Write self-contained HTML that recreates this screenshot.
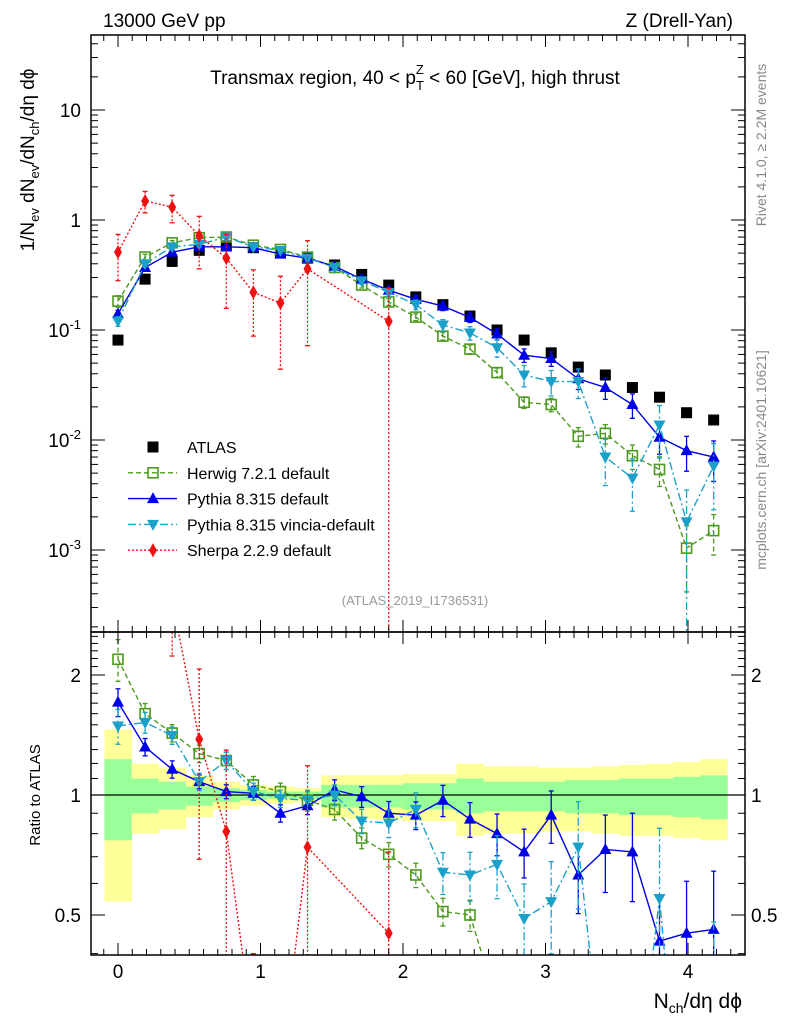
<!DOCTYPE html>
<html><head><meta charset="utf-8"><style>
html,body{margin:0;padding:0;background:#fff;width:786px;height:1024px;overflow:hidden;}
svg{display:block;font-family:"Liberation Sans",sans-serif;}
</style></head><body>
<svg id="c" width="786" height="1024" viewBox="0 0 786 1024" xmlns="http://www.w3.org/2000/svg">
<defs>
<clipPath id="cm"><rect x="91" y="35" width="654" height="597"/></clipPath>
<clipPath id="cr"><rect x="91" y="632" width="654" height="323"/></clipPath>
</defs>
<g id="bands" clip-path="url(#cr)"></g>
<g id="mainmarks" clip-path="url(#cm)"></g>
<g id="ratiomarks" clip-path="url(#cr)"></g>
<g id="axes"></g>
<text x="103" y="27" font-size="19">13000 GeV pp</text>
<text x="733" y="27" font-size="19" text-anchor="end">Z (Drell-Yan)</text>
<text x="415" y="84" font-size="19" text-anchor="middle">Transmax region, 40 &lt; p<tspan font-size="13" dy="6">T</tspan><tspan font-size="13" dx="-8" dy="-16">Z</tspan><tspan dy="10"> &lt; 60 [GeV], high thrust</tspan></text>
<text x="415" y="605" font-size="13" fill="#999" text-anchor="middle">(ATLAS_2019_I1736531)</text>
<text transform="translate(766,145) rotate(-90)" font-size="14" fill="#888" text-anchor="middle">Rivet 4.1.0, ≥ 2.2M events</text>
<text transform="translate(766,460) rotate(-90)" font-size="14" fill="#888" text-anchor="middle">mcplots.cern.ch [arXiv:2401.10621]</text>
<text transform="translate(34,160) rotate(-90)" font-size="19" text-anchor="middle">1/N<tspan font-size="13" dy="5">ev</tspan><tspan dy="-5"> dN</tspan><tspan font-size="13" dy="5">ev</tspan><tspan dy="-5">/dN</tspan><tspan font-size="13" dy="5">ch</tspan><tspan dy="-5">/dη dϕ</tspan></text>
<text transform="translate(40,795) rotate(-90)" font-size="15" text-anchor="middle">Ratio to ATLAS</text>
<text x="742" y="1008" font-size="21" text-anchor="end">N<tspan font-size="14" dy="5">ch</tspan><tspan dy="-5">/dη dϕ</tspan></text>
<g id="legend"></g>
</svg>
<script>
const xs = [0,0.19,0.38,0.57,0.76,0.95,1.14,1.33,1.52,1.71,1.90,2.09,2.28,2.47,2.66,2.85,3.04,3.23,3.42,3.61,3.80,3.99,4.18];
const atlas = [0.081,0.29,0.42,0.53,0.58,0.56,0.51,0.45,0.39,0.32,0.256,0.20,0.17,0.134,0.10,0.081,0.062,0.046,0.039,0.030,0.0245,0.0177,0.0152];
const herwig = [0.183,0.46,0.62,0.69,0.70,0.59,0.54,0.46,0.37,0.256,0.18,0.131,0.088,0.067,0.041,0.022,0.021,0.0108,0.0115,0.0072,0.0054,0.00104,0.0015];
const pythia = [0.14,0.37,0.51,0.57,0.57,0.56,0.49,0.45,0.38,0.29,0.23,0.19,0.165,0.13,0.092,0.059,0.055,0.036,0.030,0.021,0.0106,0.0080,0.0070];
const vincia = [0.12,0.40,0.57,0.60,0.70,0.57,0.53,0.45,0.37,0.28,0.22,0.17,0.111,0.094,0.069,0.039,0.034,0.034,0.0070,0.0045,0.0137,0.0018,0.0058];
const sherpa = [0.51,1.49,1.31,0.72,0.45,0.22,0.176,0.36,null,null,0.12];
const herwigErr = [0.12,0.06,0.05,0.05,0.05,0.05,0.05,0.05,0.06,0.06,0.07,0.07,0.08,0.09,0.1,0.12,0.14,0.2,0.2,0.25,0.3,0.6,0.4];
const pythiaErr = [0.08,0.05,0.05,0.04,0.04,0.04,0.05,0.05,0.06,0.06,0.07,0.08,0.09,0.1,0.12,0.14,0.15,0.2,0.22,0.25,0.3,0.35,0.4];
const vinciaErr = [0.1,0.06,0.05,0.05,0.05,0.05,0.05,0.06,0.06,0.07,0.08,0.1,0.12,0.14,0.18,0.22,0.26,0.3,0.45,0.5,0.5,0.95,0.6];
const sherpaErr = [0.45,0.22,0.28,0.5,0.65,0.6,0.75,0.8,0,0,1.0];
const rHerwig = [2.19,1.60,1.43,1.27,1.22,1.06,1.02,0.97,0.92,0.78,0.71,0.63,0.51,0.50,0.30,0.2,0.25,0.2,0.25,0.2,0.2,0.06,0.1];
const rPythia = [1.71,1.32,1.16,1.08,1.02,1.01,0.90,0.94,1.03,0.99,0.90,0.89,0.97,0.87,0.80,0.72,0.89,0.63,0.73,0.72,0.43,0.45,0.46];
const rVincia = [1.49,1.52,1.41,1.08,1.22,1.02,0.98,0.97,1.0,0.86,0.85,0.92,0.64,0.63,0.67,0.49,0.54,0.74,0.18,0.15,0.55,0.1,0.3];
const rSherpa = [6.3,5.1,3.1,1.38,0.81,0.25,0.2,0.74,null,null,0.45];
const greenHi = [1.23,1.10,1.08,1.05,1.04,1.03,1.02,1.02,1.06,1.06,1.06,1.07,1.07,1.10,1.08,1.08,1.08,1.09,1.09,1.10,1.10,1.11,1.12];
const greenLo = [0.77,0.90,0.92,0.94,0.96,0.97,0.98,0.98,0.93,0.93,0.93,0.92,0.92,0.90,0.91,0.91,0.91,0.90,0.90,0.89,0.89,0.88,0.87];
const yellowHi = [1.46,1.20,1.17,1.12,1.08,1.06,1.05,1.04,1.12,1.12,1.12,1.13,1.13,1.20,1.18,1.18,1.17,1.17,1.18,1.19,1.20,1.21,1.23];
const yellowLo = [0.54,0.80,0.82,0.88,0.92,0.94,0.95,0.96,0.88,0.87,0.87,0.86,0.86,0.79,0.80,0.80,0.81,0.81,0.80,0.79,0.79,0.78,0.77];
const xTicks = [0,1,2,3,4];
const mainTicks = [["10",1],["1",0],["10⁻¹",-1],["10⁻²",-2],["10⁻³",-3]];
const ratioTicks = [["2",2],["1",1],["0.5",0.5]];

const NS="http://www.w3.org/2000/svg";
const X0=91,X1=745,MT=35,MB=632,RT=632,RB=955;
const fx=v=>118+v*142.5;
const fy=v=>220-Math.log10(v)*110;
const fr=v=>795-Math.log10(v)*398.6;
function mk(tag,attrs,parent){const e=document.createElementNS(NS,tag);for(const k in attrs)e.setAttribute(k,attrs[k]);parent.appendChild(e);return e;}
const axes=document.getElementById('axes'),mm=document.getElementById('mainmarks'),rm=document.getElementById('ratiomarks'),bd=document.getElementById('bands'),lg=document.getElementById('legend');

for(let i=0;i<xs.length;i++){
  const a=fx(xs[i]-0.095),b=fx(xs[i]+0.095);
  const y=mk('rect',{x:a,y:fr(yellowHi[i]),width:b-a+0.5,height:fr(yellowLo[i])-fr(yellowHi[i]),fill:'#ffff99'},bd);
  
  
  const g=mk('rect',{x:a,y:fr(greenHi[i]),width:b-a+0.5,height:fr(greenLo[i])-fr(greenHi[i]),fill:'#99ff99'},bd);
  
  
}
const one=mk('line',{x1:X0,x2:X1,y1:fr(1),y2:fr(1),stroke:'#000','stroke-width':1.3},bd);



function marker(type,cx,cy,col,parent){
  let e;
  if(type==='sq') e=mk('rect',{x:cx-5.5,y:cy-5.5,width:11,height:11,fill:'#000'},parent);
  else if(type==='osq') e=mk('rect',{x:cx-5,y:cy-5,width:10,height:10,fill:'#fff','fill-opacity':0,stroke:col,'stroke-width':1.6},parent);
  else if(type==='up') e=mk('polygon',{points:`${cx},${cy-6.5} ${cx-6},${cy+4.5} ${cx+6},${cy+4.5}`,fill:col},parent);
  else if(type==='dn') e=mk('polygon',{points:`${cx},${cy+6.5} ${cx-6},${cy-4.5} ${cx+6},${cy-4.5}`,fill:col},parent);
  else e=mk('polygon',{points:`${cx},${cy-7} ${cx-4},${cy} ${cx},${cy+7} ${cx+4},${cy}`,fill:col},parent);
  return e;
}
function series(name,vals,errs,col,dash,type,parent,fyf,isRatio){
  const g=mk('g',{},parent);
  
  
  let pts=[];
  vals.forEach((v,i)=>{if(v!=null)pts.push([fx(xs[i]),fyf(Math.max(v,1e-6))]);});
  if(dash!==null){
    const l=mk('polyline',{points:pts.map(p=>p.join(',')).join(' '),fill:'none',stroke:col,'stroke-width':1.4,'stroke-dasharray':dash},g);
    
    
  }
  vals.forEach((v,i)=>{
    if(v==null)return;
    const cx=fx(xs[i]),cy=fyf(v);
    if(errs){const e=isRatio?Math.min(errs[i],0.6):errs[i];
      const lo=Math.max(v*(1-Math.min(e,0.9999)),1e-6),hi=v*(1+e);
      const b=mk('line',{x1:cx,x2:cx,y1:fyf(hi),y2:fyf(lo),stroke:col,'stroke-width':1.3,'stroke-dasharray':dash||'none'},g);
      
      
      mk('line',{x1:cx-2.5,x2:cx+2.5,y1:fyf(hi),y2:fyf(hi),stroke:col,'stroke-width':1.3},g);
      mk('line',{x1:cx-2.5,x2:cx+2.5,y1:fyf(lo),y2:fyf(lo),stroke:col,'stroke-width':1.3},g);
    }
    const m=marker(type,cx,cy,col,g);
    
    
  });
}
const HC='#4c9a1e',PC='#0000e6',VC='#1ba1c9',SC='#ee1111';
series('atlas',atlas,null,'#000',null,'sq',mm,fy,false);
series('herwig',herwig,herwigErr,HC,'5,3','osq',mm,fy,false);
series('pythia',pythia,pythiaErr,PC,'none','up',mm,fy,false);
series('vincia',vincia,vinciaErr,VC,'8,3,2,3','dn',mm,fy,false);
series('sherpa',sherpa,sherpaErr,SC,'2,2','dia',mm,fy,false);
series('herwig',rHerwig,herwigErr,HC,'5,3','osq',rm,fr,true);
series('pythia',rPythia,pythiaErr,PC,'none','up',rm,fr,true);
series('vincia',rVincia,vinciaErr,VC,'8,3,2,3','dn',rm,fr,true);
series('sherpa',rSherpa,sherpaErr,SC,'2,2','dia',rm,fr,true);

[[MT,MB],[RT,RB]].forEach(([t,b],k)=>{
  const r=mk('rect',{x:X0,y:t,width:X1-X0,height:b-t,fill:'none',stroke:'#000','stroke-width':1.5},axes);
  
  
  for(let n=-2;n<=44;n++){const v=n/10;const px=fx(v);if(px<X0||px>X1)continue;
    const maj=n%10===0;const L=maj?12:6;
    mk('line',{x1:px,x2:px,y1:t,y2:t+L,stroke:'#000'},axes);
    mk('line',{x1:px,x2:px,y1:b,y2:b-L,stroke:'#000'},axes);}
});
xTicks.forEach(v=>{const t=mk('text',{x:fx(v),y:978,'font-size':19,'text-anchor':'middle'},axes);t.textContent=v;
  
  });
for(let d=-4;d<=1;d++){for(let m=1;m<10;m++){const v=m*Math.pow(10,d);const py=fy(v);if(py<MT||py>MB)continue;
  const L=m===1?14:7;mk('line',{x1:X0,x2:X0+L,y1:py,y2:py,stroke:'#000'},axes);mk('line',{x1:X1,x2:X1-L,y1:py,y2:py,stroke:'#000'},axes);}}
mainTicks.forEach(([s,d])=>{const t=mk('text',{x:81,y:fy(Math.pow(10,d))+7,'font-size':19,'text-anchor':'end'},axes);
  if(d<0){t.textContent='10';const ts=mk('tspan',{'font-size':13,dy:-8},t);ts.textContent=String(d);}else t.textContent=s;
  
  });
for(let n=3;n<=26;n++){const v=n/10;const py=fr(v);if(py<RT||py>RB)continue;
  const maj=(n===5||n===10||n===20);const L=maj?14:7;
  mk('line',{x1:X0,x2:X0+L,y1:py,y2:py,stroke:'#000'},axes);mk('line',{x1:X1,x2:X1-L,y1:py,y2:py,stroke:'#000'},axes);}
ratioTicks.forEach(([s,v])=>{[[81,'end'],[751,'start']].forEach(([x,a])=>{
  const t=mk('text',{x:x,y:fr(v)+7,'font-size':19,'text-anchor':a},axes);t.textContent=s;
  
  });});

const legItems=[['ATLAS','#000',null,'sq'],['Herwig 7.2.1 default',HC,'5,3','osq'],['Pythia 8.315 default',PC,'none','up'],['Pythia 8.315 vincia-default',VC,'8,3,2,3','dn'],['Sherpa 2.2.9 default',SC,'2,2','dia']];
legItems.forEach((it,i)=>{const y=447+i*25.8;
  const g=mk('g',{},lg);
  
  
  if(it[2]!==null)mk('line',{x1:128,x2:177,y1:y,y2:y,stroke:it[1],'stroke-width':1.4,'stroke-dasharray':it[2]},g);
  marker(it[3],153,y,it[1],g);
  const t=mk('text',{x:187,y:y+6,'font-size':16},g);t.textContent=it[0];});
</script>
</body></html>
